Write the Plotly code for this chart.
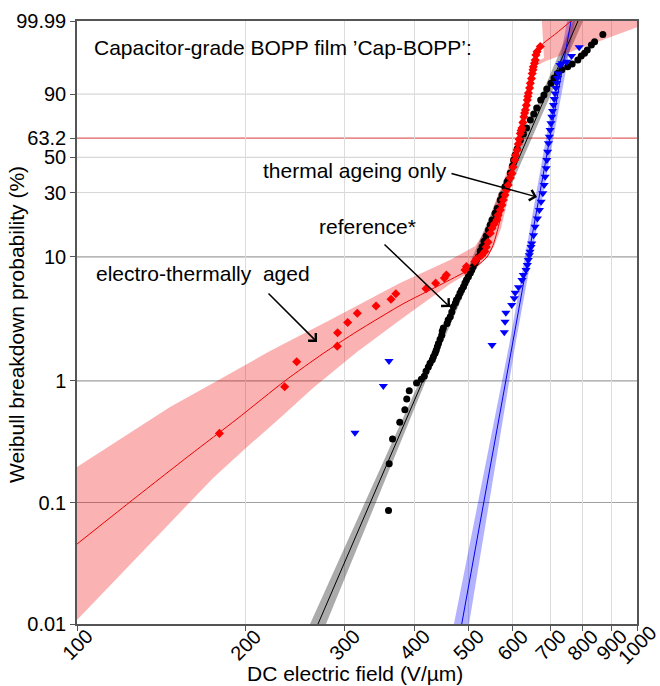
import numpy as np
import plotly.graph_objects as go

# ---------------- tick labels ----------------
x_tick_vals = [100, 200, 300, 400, 500, 600, 700, 800, 900, 1000]
y_tick_probs = [0.01, 0.1, 1, 10, 30, 50, 63.2, 90, 99.99]
y_tick_text = ["0.01", "0.1", "1", "10", "30", "50", "63.2", "90", "99.99"]
y_major_probs = [0.1, 1, 10]
y_minor_probs = [30, 50, 90]
y_char_prob = 63.2

# ---------------- reference* (black circles) ----------------
ref_field = [360, 361, 366, 377, 385, 388, 392, 404, 412, 417, 420, 424, 427, 431, 433, 436,
             438, 440, 442, 445, 448, 449, 451, 458, 460, 464, 467, 470, 474, 476, 480, 483,
             486, 490, 493, 496, 500, 504, 507, 510, 514, 517, 521, 525, 529, 533, 538, 543,
             547, 551, 558, 563, 570, 574, 581, 586, 589, 594, 599, 602, 606, 611, 619, 627,
             635, 645, 654, 662, 673, 682, 690, 702, 711, 721, 734, 752, 766, 784, 795, 806,
             815, 829, 840, 869]
ref_prob = [0.086, 0.208, 0.333, 0.457, 0.58, 0.71, 0.83, 0.96, 1.03, 1.09, 1.20, 1.30, 1.39, 1.49, 1.57, 1.68,
            1.78, 1.90, 2.02, 2.19, 2.36, 2.55, 2.70, 2.94, 3.13, 3.33, 3.63, 4.01, 4.29, 4.54, 4.83, 5.17,
            5.46, 5.80, 6.21, 6.56, 6.97, 7.46, 7.88, 8.36, 8.94, 9.44, 10.0, 11.1, 12.0, 13.2, 14.5, 16.1,
            17.5, 19.1, 21.4, 23.3, 26.6, 28.8, 32.8, 35.3, 36.4, 40.3, 44.5, 48.3, 51.6, 55.7, 61.9, 66.1,
            70.2, 75.6, 79.4, 83.0, 87.2, 89.6, 92.1, 94.1, 95.6, 96.7, 97.4, 97.9, 98.3, 98.77, 99.13, 99.32,
            99.51, 99.71, 99.80, 99.92]
ref_fit_field = [269.4, 784.5]
ref_fit_prob = [0.01, 99.99]
ref_band_low_field = [260.7, 409.5, 768.5]
ref_band_high_field = [278.4, 419.7, 801.0]
ref_band_prob = [0.01, 1.0, 99.99]

# ---------------- electro-thermally aged (red diamonds) ----------------
et_field = [179.6, 234.9, 246.8, 291.6, 292.0, 304.3, 316.6, 342, 363.7, 371, 420, 437, 453, 456.7,
            493, 496, 513.5, 517, 528, 535, 538, 542, 547, 551, 556, 562, 565, 570, 574, 577, 581,
            585, 589, 594, 598, 601, 605, 607, 611, 614, 616, 619, 621, 623, 625.5, 628, 630, 632,
            634.5, 637, 638.5, 640, 643, 645, 648, 650, 652, 653, 656, 658, 660, 663, 672]
et_prob = [0.37, 0.894, 1.43, 1.92, 2.47, 2.99, 3.55, 4.06, 4.6, 5.1, 5.6, 6.2, 6.8, 7.2,
           7.9, 8.4, 9.2, 9.6, 10.3, 11.0, 11.9, 13.0, 15.2, 16.6, 17.8, 19.1, 20.8, 22.6, 24.5, 26.6, 28.8,
           31.2, 33.7, 37.5, 40.1, 43.9, 48.3, 51.5, 55.0, 59.1, 62.5, 66.5, 68.5, 70.2, 74.0, 77.7, 80.0, 81.8,
           84.5, 87.2, 89.0, 90.5, 92.5, 94.1, 95.5, 96.7, 97.4, 97.9, 98.4, 98.76, 99.20, 99.42, 99.66]
et_fit_field = [100, 124.3, 159.1, 193.1, 235.2, 275, 316.2, 382.1, 439.5, 489, 520, 539.8, 553.3,
                564.8, 576.5, 588.4, 600.6, 613.1, 625.9, 638.9, 652.2, 663, 674, 716.8, 770]
et_fit_prob = [0.0455, 0.1009, 0.2459, 0.4867, 1.0, 1.67, 2.53, 4.23, 5.83, 7.46, 8.63, 9.97, 12.3,
               16.6, 23.7, 33.7, 46.4, 61.9, 76.9, 89.2, 96.6, 99.13, 99.69, 99.93, 99.993]
# confidence band: upper/left edge (low field -> high), then lower/right edge (high -> low)
et_band_up_field = [100, 120.8, 146.6, 180, 221.1, 283, 377.4, 463.6, 513.6, 528.6, 542, 555.6, 574.2,
                    588.4, 598.1, 608.0, 620.7, 628.4, 637.6, 642.7, 649.4, 682.1, 675.8]
et_band_up_prob = [0.196, 0.346, 0.61, 1.03, 1.75, 3.13, 6.21, 9.44, 12.1, 14.5, 17.5, 24.5, 33.7,
                   43.3, 51.6, 61.9, 77.5, 87.2, 94.2, 96.8, 98.3, 98.96, 99.995]
et_band_lo_field = [1099, 1000, 687.6, 660.2, 654.9, 646.8, 636.2, 623.2, 610.6, 595.7, 583.7, 571.7,
                    555.6, 542, 517.9, 463.6, 377.4, 316.2, 263.9, 230.4, 200.3, 175, 100]
et_band_lo_prob = [99.9975, 99.972, 98.66, 98.02, 95.6, 89.2, 76.9, 61.9, 48.3, 33.7, 23.7, 16.6,
                   12.1, 10.15, 8.17, 6.10, 3.13, 1.72, 0.873, 0.495, 0.281, 0.159, 0.0108]

# ---------------- thermal ageing only (blue triangles) ----------------
th_field = [313.6, 352.4, 360.7, 551, 579.5, 581.3, 583.2, 597.4, 603.7, 606, 614.3, 623.2, 626.6,
            633.7, 637, 639.6, 642.3, 644.1, 646.8, 648.7, 653.5, 657.6, 664, 669.5, 674.2, 678.9,
            682.6, 685.4, 688.4, 690.2, 692.5, 694.8, 697.3, 699.5, 701.9, 704.4, 706.8, 709.2,
            711.6, 714, 716.3, 718.9, 721.2, 723.6, 728.6, 734.4, 748.8, 764.1, 788.4]
th_prob = [0.375, 0.906, 1.45, 1.96, 2.49, 3.03, 3.58, 4.14, 4.69, 5.19, 5.74, 6.56, 7.19,
           7.88, 8.62, 9.44, 10.3, 10.95, 11.9, 12.7, 14.7, 17.0, 19.6, 22.6, 25.9, 29.6,
           33.7, 38.2, 43.2, 48.3, 53.8, 59.6, 64.2, 68.8, 73.4, 77.7, 81.2, 84.6,
           87.7, 90.3, 92.5, 94.2, 95.6, 96.7, 98.17, 98.39, 98.58, 99.13, 99.63]
th_fit_field = [486.4, 762.5]
th_fit_prob = [0.01, 99.99]
th_band_low_field = [471.1, 591.6, 749.9]
th_band_high_field = [501.2, 606.6, 775.0]
th_band_prob = [0.01, 2.0, 99.99]


def weib(p):
    p = np.asarray(p, dtype=float) / 100.0
    return np.log(-np.log(1.0 - p))


FONT = "Arial, Liberation Sans, sans-serif"
fig = go.Figure()


def band(low_f, high_f, probs, color):
    xs = list(low_f) + list(high_f)[::-1]
    ys = list(weib(probs)) + list(weib(probs))[::-1]
    fig.add_trace(go.Scatter(x=xs, y=ys, fill="toself", fillcolor=color, mode="lines",
                             line=dict(width=0), hoverinfo="skip", showlegend=False))


# bands
band(ref_band_low_field, ref_band_high_field, ref_band_prob, "rgba(0,0,0,0.33)")
band(th_band_low_field, th_band_high_field, th_band_prob, "rgba(0,0,255,0.30)")
fig.add_trace(go.Scatter(x=et_band_up_field + et_band_lo_field,
                         y=list(weib(et_band_up_prob)) + list(weib(et_band_lo_prob)),
                         fill="toself", fillcolor="rgba(240,0,0,0.30)", mode="lines",
                         line=dict(width=0), hoverinfo="skip", showlegend=False))

# fit lines
fig.add_trace(go.Scatter(x=ref_fit_field, y=weib(ref_fit_prob), mode="lines",
                         line=dict(color="black", width=1), showlegend=False))
fig.add_trace(go.Scatter(x=th_fit_field, y=weib(th_fit_prob), mode="lines",
                         line=dict(color="#0000ee", width=1), showlegend=False))
fig.add_trace(go.Scatter(x=et_fit_field, y=weib(et_fit_prob), mode="lines",
                         line=dict(color="#ee0000", width=1, shape="spline", smoothing=0.6),
                         showlegend=False))

# data points
fig.add_trace(go.Scatter(x=ref_field, y=weib(ref_prob), mode="markers",
                         marker=dict(symbol="circle", size=7, color="black"), showlegend=False))
fig.add_trace(go.Scatter(x=et_field, y=weib(et_prob), mode="markers",
                         marker=dict(symbol="diamond", size=7, color="#ff0000"), showlegend=False))
fig.add_trace(go.Scatter(x=th_field, y=weib(th_prob), mode="markers",
                         marker=dict(symbol="triangle-down", size=8, color="#0000ff"), showlegend=False))

# grid lines for y (Weibull scale)
shapes = []
for p in y_minor_probs:
    shapes.append(dict(type="line", xref="paper", x0=0, x1=1, yref="y", y0=float(weib(p)), y1=float(weib(p)),
                       line=dict(color="#d8d8d8", width=1.2), layer="below"))
for p in y_major_probs:
    shapes.append(dict(type="line", xref="paper", x0=0, x1=1, yref="y", y0=float(weib(p)), y1=float(weib(p)),
                       line=dict(color="#a0a0a0", width=1.2), layer="below"))
shapes.append(dict(type="line", xref="paper", x0=0, x1=1, yref="y", y0=float(weib(y_char_prob)),
                   y1=float(weib(y_char_prob)), line=dict(color="#e06060", width=1.3), layer="below"))

ymin = float(weib(0.01))
ymax = float(weib(99.99))

W, H = 660, 686
L, R, T, B = 77, 23, 21, 62
pw, ph = W - L - R, H - T - B


def px(xp):
    return (xp - L) / pw


def py(yp):
    return (H - B - yp) / ph


AF = dict(size=21, color="black", family=FONT)
annotations = [
    dict(text="Capacitor-grade BOPP film ’Cap-BOPP’:", x=px(92), y=py(47), xref="paper", yref="paper",
         xanchor="left", yanchor="middle", showarrow=False, font=AF),
    dict(text="electro-thermally  aged", x=px(94), y=py(273), xref="paper", yref="paper",
         xanchor="left", yanchor="middle", showarrow=False, font=AF),
    dict(text="reference*", x=px(317), y=py(226), xref="paper", yref="paper",
         xanchor="left", yanchor="middle", showarrow=False, font=AF),
    dict(text="thermal ageing only", x=px(261), y=py(170), xref="paper", yref="paper",
         xanchor="left", yanchor="middle", showarrow=False, font=AF),
    dict(text="Weibull breakdown probability (%)", x=px(17), y=py(325), xref="paper", yref="paper",
         xanchor="center", yanchor="middle", textangle=-90, showarrow=False, font=AF),
    dict(text="DC electric field (V/µm)", x=px(355), y=py(673), xref="paper", yref="paper",
         xanchor="center", yanchor="middle", showarrow=False, font=AF),
]
# rotated x tick labels, centred under each tick
for v in x_tick_vals:
    annotations.append(dict(text=str(v), x=float(np.log10(v)), xref="x", y=py(645), yref="paper",
                            xanchor="center", yanchor="middle", textangle=-45, showarrow=False,
                            font=dict(size=20, color="black", family=FONT)))

arrows = [((317, 342), (267, 292)), ((450, 307), (383, 243)), ((537, 197), (450, 173))]
for (hx, hy), (tx, ty) in arrows:
    annotations.append(dict(text="", x=px(hx), y=py(hy), xref="paper", yref="paper",
                            ax=tx - hx, ay=ty - hy, axref="pixel", ayref="pixel",
                            showarrow=True, arrowhead=4, arrowsize=1.4, arrowwidth=1.5,
                            arrowcolor="black"))

fig.update_layout(
    width=W, height=H,
    margin=dict(l=L, r=R, t=T, b=B, autoexpand=False),
    paper_bgcolor="white", plot_bgcolor="white",
    font=dict(family=FONT, size=20, color="black"),
    shapes=shapes, annotations=annotations, showlegend=False,
    xaxis=dict(type="log", range=[2, 3], tickvals=x_tick_vals, showticklabels=False,
               showgrid=True, gridcolor="#dcdcdc", gridwidth=1, zeroline=False, automargin=False,
               showline=True, linecolor="#555555", linewidth=1.5, mirror=True,
               ticks="outside", ticklen=5, tickcolor="#555555"),
    yaxis=dict(range=[ymin, ymax], tickvals=list(weib(y_tick_probs)), ticktext=y_tick_text,
               showgrid=False, zeroline=False, showline=True, linecolor="#555555", linewidth=1.5,
               mirror=True, ticks="outside", ticklen=5, tickcolor="#555555", automargin=False,
               tickfont=dict(size=20)),
)

fig.write_html("out.html")
